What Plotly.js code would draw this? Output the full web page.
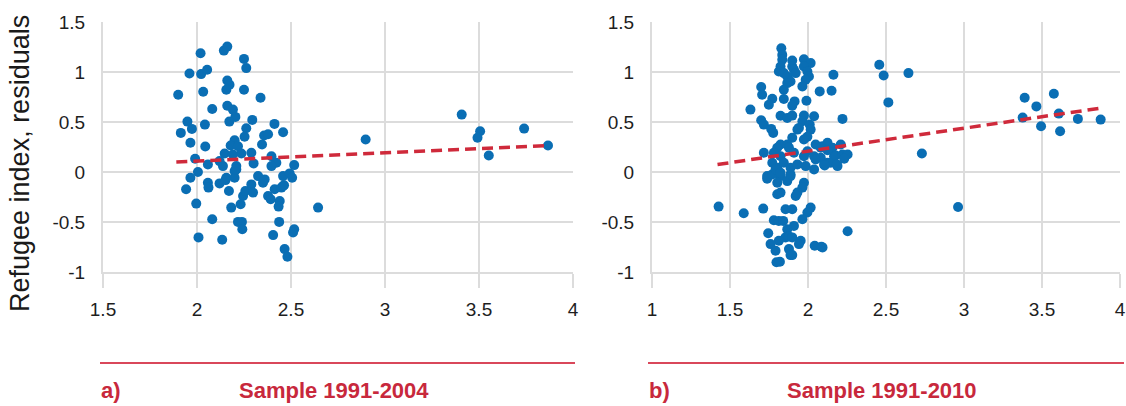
<!DOCTYPE html>
<html><head><meta charset="utf-8">
<script src="https://cdn.plot.ly/plotly-3.0.1.min.js"></script>
<style>html,body{margin:0;padding:0;background:#fff}#chart{width:1126px;height:406px}</style>
</head><body><div id="chart"></div>
<script>
// Panel a) Sample 1991-2004
const aX = [2.019,2.143,2.161,2.250,2.262,1.960,2.022,2.054,2.161,2.173,2.156,2.250,2.033,1.900,2.338,2.081,2.161,2.191,2.204,2.172,2.294,1.949,1.973,1.914,2.042,2.262,2.253,2.412,2.458,2.357,2.378,2.346,1.965,2.044,2.200,2.179,2.218,2.289,2.147,2.191,2.236,1.990,2.058,2.120,2.138,2.209,2.301,2.396,2.422,2.396,2.517,2.005,2.200,1.965,2.156,2.325,2.458,2.493,2.506,1.942,2.058,2.061,2.120,2.152,2.170,2.200,2.209,2.245,2.257,2.289,2.298,2.351,2.360,2.378,2.392,2.413,2.449,2.463,2.440,2.434,1.996,2.182,2.232,2.081,2.218,2.239,2.241,2.437,2.517,2.511,2.008,2.134,2.405,2.466,2.481,3.408,3.506,3.492,3.552,3.740,3.867,2.897,2.644,2.458];
const aY = [1.188,1.214,1.254,1.131,1.039,0.985,0.979,1.022,0.915,0.872,0.823,0.823,0.803,0.773,0.743,0.630,0.663,0.624,0.551,0.504,0.521,0.504,0.431,0.391,0.474,0.437,0.352,0.481,0.397,0.365,0.377,0.275,0.292,0.255,0.318,0.265,0.258,0.192,0.185,0.175,0.185,0.132,0.076,0.109,0.059,0.059,0.086,0.158,0.093,0.059,0.069,0.000,0.009,-0.057,-0.057,-0.041,-0.041,-0.014,-0.057,-0.173,-0.107,-0.156,-0.114,-0.081,-0.190,-0.057,0.026,-0.240,-0.190,-0.124,-0.206,-0.107,-0.074,-0.240,-0.273,-0.173,-0.156,-0.133,-0.290,-0.346,-0.316,-0.356,-0.323,-0.472,-0.499,-0.499,-0.572,-0.499,-0.572,-0.605,-0.654,-0.678,-0.631,-0.771,-0.848,0.574,0.407,0.342,0.165,0.434,0.265,0.325,-0.356,-0.140];
const trendAX = [1.89, 3.87];
const trendAY = [0.10, 0.265];

// Panel b) Sample 1991-2010
const bX = [1.829,1.835,1.835,1.899,1.974,2.017,1.824,1.813,1.845,1.867,1.899,1.910,1.921,1.974,1.996,2.006,1.985,1.888,1.867,2.163,1.964,1.845,2.075,2.151,1.700,1.706,1.771,1.749,1.845,1.914,1.899,1.990,1.631,1.824,1.867,1.899,1.974,1.964,2.039,1.700,1.717,2.011,2.017,1.932,1.942,1.764,1.777,1.996,1.974,1.899,1.824,1.867,1.878,1.803,2.049,2.093,2.125,2.157,1.717,1.781,1.824,1.910,1.996,1.974,2.039,2.082,2.125,2.167,2.189,1.771,1.803,1.845,1.888,1.932,1.985,2.039,1.738,1.824,1.888,1.427,1.588,1.713,1.738,1.771,1.792,1.824,1.867,1.888,1.803,1.974,1.964,2.049,2.103,2.146,1.803,1.824,1.921,1.932,1.856,1.899,2.017,1.996,1.964,1.781,1.813,1.841,1.910,1.867,1.856,1.878,1.899,1.745,1.813,1.760,1.792,1.953,1.942,1.878,1.888,1.899,2.043,2.086,1.798,1.820,2.457,2.485,2.644,2.515,2.221,2.082,2.125,2.210,2.178,2.221,2.254,2.232,2.107,2.185,2.730,2.962,2.254,2.093,3.389,3.464,3.576,3.376,3.494,3.608,3.616,3.730,3.876];
const bY = [1.238,1.171,1.122,1.115,1.128,1.089,1.055,1.005,0.989,0.955,1.055,1.022,0.989,1.055,1.005,0.955,0.922,0.905,0.889,0.972,0.856,0.823,0.806,0.813,0.850,0.773,0.733,0.673,0.730,0.706,0.663,0.713,0.624,0.563,0.540,0.564,0.564,0.507,0.557,0.517,0.474,0.474,0.424,0.424,0.441,0.431,0.391,0.352,0.325,0.342,0.275,0.275,0.242,0.242,0.275,0.258,0.292,0.242,0.192,0.192,0.158,0.192,0.208,0.158,0.158,0.142,0.093,0.158,0.059,0.093,0.043,0.093,0.043,0.076,0.059,0.026,-0.041,-0.041,-0.041,-0.346,-0.412,-0.366,-0.067,-0.024,0.026,-0.007,-0.091,-0.024,-0.107,-0.107,-0.156,0.125,0.076,0.093,-0.223,-0.206,-0.240,-0.206,-0.373,-0.373,-0.356,-0.405,-0.472,-0.482,-0.489,-0.489,-0.539,-0.572,-0.654,-0.644,-0.654,-0.612,-0.688,-0.721,-0.788,-0.688,-0.721,-0.771,-0.831,-0.831,-0.738,-0.748,-0.903,-0.897,1.072,0.965,0.989,0.696,0.531,0.242,0.218,0.275,0.165,0.175,0.175,0.132,0.066,0.076,0.185,-0.350,-0.592,-0.754,0.743,0.656,0.783,0.544,0.457,0.584,0.407,0.531,0.524];
const trendBX = [1.42, 3.88];
const trendBY = [0.075, 0.64];

// Axis ticks and labels
const yTickVals = [-1, -0.5, 0, 0.5, 1, 1.5];
const yTickText = ['-1', '-0.5', '0', '0.5', '1', '1.5'];
const aXTickVals = [1.5, 2, 2.5, 3, 3.5, 4];
const aXTickText = ['1.5', '2', '2.5', '3', '3.5', '4'];
const bXTickVals = [1, 1.5, 2, 2.5, 3, 3.5, 4];
const bXTickText = ['1', '1.5', '2', '2.5', '3', '3.5', '4'];
const yTitle = 'Refugee index, residuals';
const panelLabels = ['a)', 'b)'];
const panelTitles = ['Sample 1991-2004', 'Sample 1991-2010'];

const W = 1126, H = 406;
const FONT = 'Liberation Sans, Arial, Helvetica, sans-serif';
const BLUE = '#0a6eb4';
const RED = '#cf2a3b';
const TITLE_RED = '#c8283c';
const GRID = '#dcdcdc';

const markerStyle = {color: BLUE, size: 10, line: {width: 0}};
const lineStyle = {color: RED, width: 3.5, dash: '11px,6px'};

const traces = [
  {x: aX, y: aY, type: 'scatter', mode: 'markers', marker: markerStyle, xaxis: 'x', yaxis: 'y', hoverinfo: 'x+y'},
  {x: trendAX, y: trendAY, type: 'scatter', mode: 'lines', line: lineStyle, xaxis: 'x', yaxis: 'y', hoverinfo: 'skip'},
  {x: bX, y: bY, type: 'scatter', mode: 'markers', marker: markerStyle, xaxis: 'x2', yaxis: 'y2', hoverinfo: 'x+y'},
  {x: trendBX, y: trendBY, type: 'scatter', mode: 'lines', line: lineStyle, xaxis: 'x2', yaxis: 'y2', hoverinfo: 'skip'}
];

const tickFont = {family: FONT, size: 19, color: '#1e1e1e'};
function xAxis(domain, range, vals, text, anchor) {
  return {
    domain: domain, range: range, anchor: anchor,
    tickmode: 'array', tickvals: vals, ticktext: text,
    showgrid: true, gridcolor: GRID, gridwidth: 2,
    showline: true, linecolor: GRID, linewidth: 2,
    ticks: 'outside', ticklen: 14, tickwidth: 2, tickcolor: GRID,
    ticklabelstandoff: 5,
    zeroline: false, tickfont: tickFont, fixedrange: true
  };
}
function yAxis(anchor) {
  return {
    domain: [1 - 272 / H, 1 - 22 / H], range: [-1, 1.5], anchor: anchor,
    tickmode: 'array', tickvals: yTickVals, ticktext: yTickText,
    showgrid: true, gridcolor: GRID, gridwidth: 2,
    showline: true, linecolor: GRID, linewidth: 2,
    ticks: '', ticklabelstandoff: 12,
    zeroline: false, tickfont: tickFont, fixedrange: true
  };
}

const titleFont = {family: FONT, size: 22, color: TITLE_RED, weight: 'bold'};
const labelY = 1 - 390 / H;
const layout = {
  width: W, height: H,
  margin: {l: 0, r: 0, t: 0, b: 0},
  paper_bgcolor: '#ffffff', plot_bgcolor: '#ffffff',
  showlegend: false,
  xaxis: xAxis([103 / W, 573 / W], [1.5, 4], aXTickVals, aXTickText, 'y'),
  yaxis: yAxis('x'),
  xaxis2: xAxis([652 / W, 1120 / W], [1, 4], bXTickVals, bXTickText, 'y2'),
  yaxis2: yAxis('x2'),
  shapes: [
    {type: 'line', xref: 'paper', yref: 'paper', x0: 100 / W, x1: 575 / W, y0: 1 - 363 / H, y1: 1 - 363 / H, line: {color: '#d9475a', width: 2.2}},
    {type: 'line', xref: 'paper', yref: 'paper', x0: 648 / W, x1: 1124 / W, y0: 1 - 363 / H, y1: 1 - 363 / H, line: {color: '#d9475a', width: 2.2}}
  ],
  annotations: [
    {text: yTitle, xref: 'paper', yref: 'paper', x: 20 / W, y: 1 - 164 / H, xanchor: 'center', yanchor: 'middle', textangle: -90, showarrow: false, font: {family: FONT, size: 27, color: '#1a1a1a'}},
    {text: '<b>' + panelLabels[0] + '</b>', xref: 'paper', yref: 'paper', x: 99 / W, y: labelY, xanchor: 'left', yanchor: 'middle', showarrow: false, font: titleFont},
    {text: '<b>' + panelTitles[0] + '</b>', xref: 'paper', yref: 'paper', x: 334 / W, y: labelY, xanchor: 'center', yanchor: 'middle', showarrow: false, font: titleFont},
    {text: '<b>' + panelLabels[1] + '</b>', xref: 'paper', yref: 'paper', x: 647 / W, y: labelY, xanchor: 'left', yanchor: 'middle', showarrow: false, font: titleFont},
    {text: '<b>' + panelTitles[1] + '</b>', xref: 'paper', yref: 'paper', x: 882 / W, y: labelY, xanchor: 'center', yanchor: 'middle', showarrow: false, font: titleFont}
  ]
};

Plotly.newPlot('chart', traces, layout, {staticPlot: true, displayModeBar: false});
</script>
</body></html>
